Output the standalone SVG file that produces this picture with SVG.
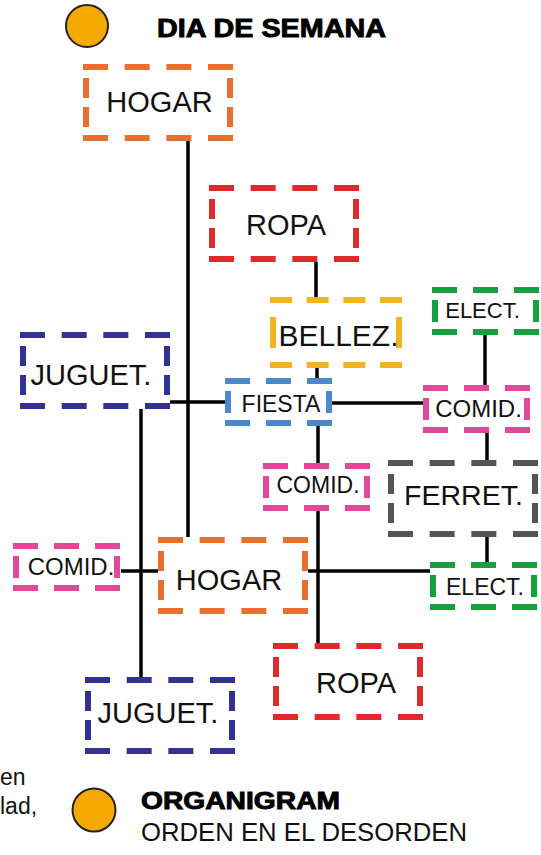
<svg xmlns="http://www.w3.org/2000/svg" width="541" height="855" viewBox="0 0 541 855">
<style>
.b{fill:none;stroke-width:6}
.hL{stroke-dasharray:25 16.67}
.vL{stroke-dasharray:20 9}
.hS{stroke-dasharray:25 16}
.hB{stroke-dasharray:22 14.67}
.or{stroke:#E8702F}.rd{stroke:#E0282D}.ye{stroke:#F2B51F}.nv{stroke:#323391}
.bl{stroke:#4D88C8}.pk{stroke:#E04A9B}.gr{stroke:#16A040}.gy{stroke:#555555}
text{font-family:"Liberation Sans",Arial,sans-serif;fill:#111}
.t{text-anchor:middle}
.conn path{stroke:#000;stroke-width:3.5;fill:none}
.dot{fill:#F5A800;stroke:#222;stroke-width:2}
.hd{font-weight:bold;stroke:#000;stroke-width:0.9;fill:#000}
</style>
<rect width="541" height="855" fill="#fff"/>
<g id="connectors" class="conn">
<path d="M188,141V537"/>
<path d="M316,262V297"/>
<path d="M317,368V378"/>
<path d="M170,402H225"/>
<path d="M332,403H423"/>
<path d="M318,426V463"/>
<path d="M318,511V643"/>
<path d="M485,335V385"/>
<path d="M487,433V460"/>
<path d="M487,537V562"/>
<path d="M121,571H158"/>
<path d="M308,571H430"/>
<path d="M141,409V677"/>
</g>
<g id="header">
<circle class="dot" cx="87" cy="26" r="21"/>
<text class="hd" x="157" y="37" font-size="26" textLength="229" lengthAdjust="spacingAndGlyphs">DIA DE SEMANA</text>
</g>
<g id="hogar1">
<path class="b hL or" d="M83,67h150M83,138h150"/>
<path class="b vL or" d="M86,78V127M230,78V127"/>
<text class="t" x="159.5" y="112" font-size="29">HOGAR</text>
</g>
<g id="ropa1">
<path class="b hL rd" d="M209,188h150M209,259h150"/>
<path class="b vL rd" d="M212,199V248M356,199V248"/>
<text class="t" x="286" y="235" font-size="29">ROPA</text>
</g>
<g id="bellez">
<path class="b hB ye" d="M270,300h132M270,365h132"/>
<path class="b ye" d="M273,317V348M399,317V348"/>
<text class="t" x="338.5" y="346" font-size="30">BELLEZ.</text>
</g>
<g id="juguet1">
<path class="b hL nv" d="M20,335h150M20,406h150"/>
<path class="b vL nv" d="M23,346V395M167,346V395"/>
<text class="t" x="91" y="385" font-size="29">JUGUET.</text>
</g>
<g id="fiesta">
<path class="b hS bl" d="M225,381h107M225,423h107"/>
<path class="b bl" d="M228,391V413M329,391V413"/>
<text class="t" x="281" y="412" font-size="23">FIESTA</text>
</g>
<g id="elect1">
<path class="b hS gr" d="M432,290h107M432,332h107"/>
<path class="b gr" d="M435,300V322M536,300V322"/>
<text class="t" x="482.5" y="318" font-size="22">ELECT.</text>
</g>
<g id="comid1">
<path class="b hS pk" d="M423,388h107M423,430h107"/>
<path class="b pk" d="M426,398V420M527,398V420"/>
<text class="t" x="478.5" y="417" font-size="24">COMID.</text>
</g>
<g id="comid2">
<path class="b hS pk" d="M263,466h107M263,508h107"/>
<path class="b pk" d="M266,476V498M367,476V498"/>
<text class="t" x="318" y="493" font-size="23">COMID.</text>
</g>
<g id="ferret">
<path class="b hL gy" d="M388,463h150M388,534h150"/>
<path class="b vL gy" d="M391,474V523M535,474V523"/>
<text class="t" x="463.5" y="505" font-size="28.5">FERRET.</text>
</g>
<g id="comid3">
<path class="b hS pk" d="M13,546h107M13,588h107"/>
<path class="b pk" d="M16,556V578M117,556V578"/>
<text class="t" x="71" y="575" font-size="24">COMID.</text>
</g>
<g id="hogar2">
<path class="b hL or" d="M158,540h150M158,611h150"/>
<path class="b vL or" d="M161,551V600M305,551V600"/>
<text class="t" x="229" y="590" font-size="29">HOGAR</text>
</g>
<g id="elect2">
<path class="b hS gr" d="M430,565h107M430,607h107"/>
<path class="b gr" d="M433,575V597M534,575V597"/>
<text class="t" x="485" y="595" font-size="23">ELECT.</text>
</g>
<g id="ropa2">
<path class="b hL rd" d="M273,646h150M273,717h150"/>
<path class="b vL rd" d="M276,657V706M420,657V706"/>
<text class="t" x="356" y="693" font-size="29">ROPA</text>
</g>
<g id="juguet2">
<path class="b hL nv" d="M85,680h150M85,751h150"/>
<path class="b vL nv" d="M88,691V740M232,691V740"/>
<text class="t" x="158" y="723" font-size="29">JUGUET.</text>
</g>
<g id="footer">
<text x="0" y="785" font-size="23">en</text>
<text x="0" y="814" font-size="23">lad,</text>
<circle class="dot" cx="94" cy="810" r="21.5"/>
<text class="hd" x="141" y="809" font-size="24" textLength="199" lengthAdjust="spacingAndGlyphs">ORGANIGRAM</text>
<text x="141" y="841" font-size="25.5" textLength="326" lengthAdjust="spacingAndGlyphs">ORDEN EN EL DESORDEN</text>
</g>
</svg>
